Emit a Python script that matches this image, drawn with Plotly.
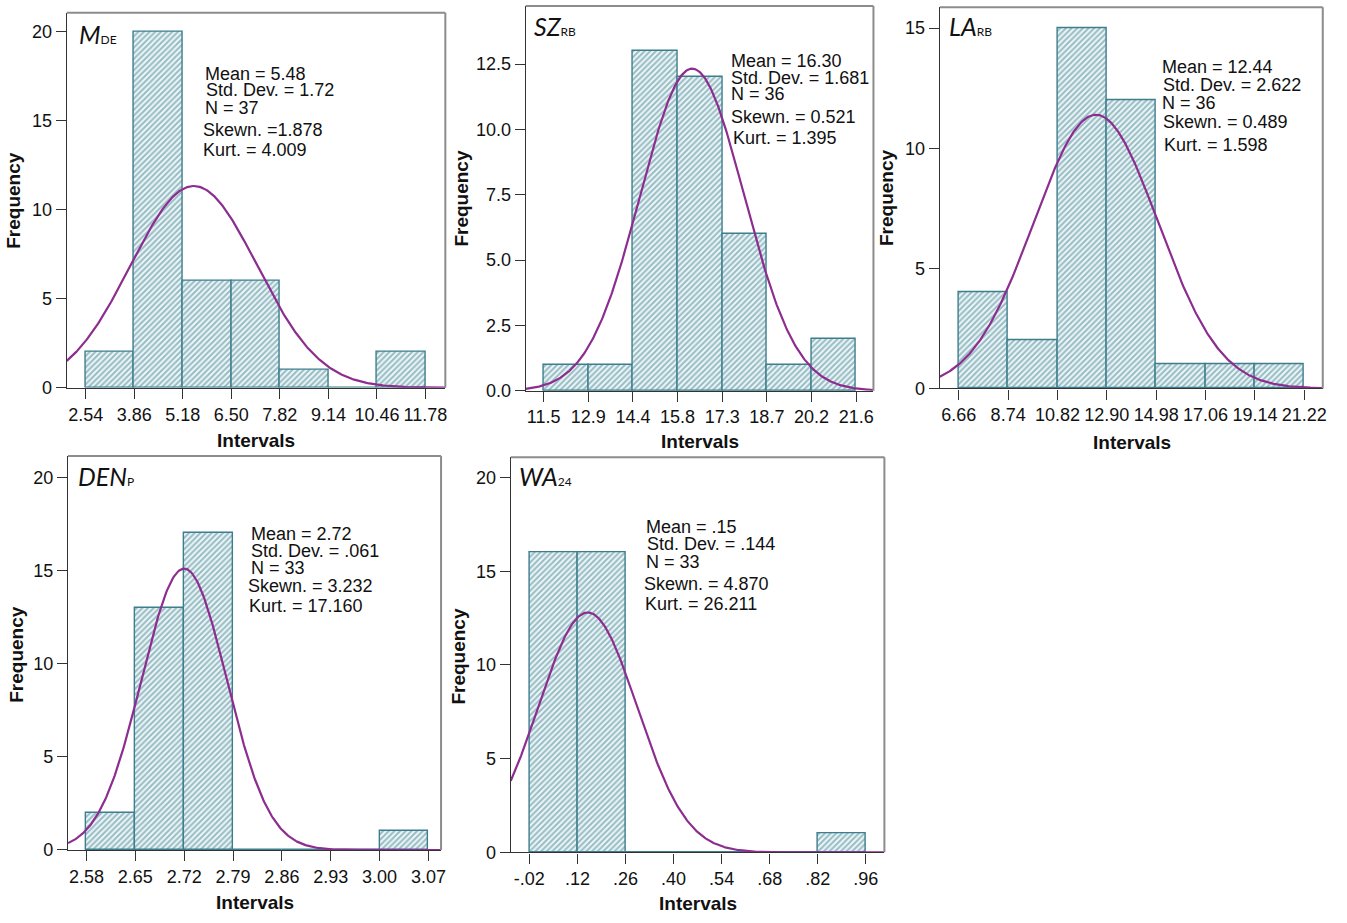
import numpy as np
import plotly.graph_objects as go

# ---------------- data ----------------
# M_DE
mde_counts = [2, 20, 6, 6, 1, 0, 2]
mde_start, mde_width = 2.54, 1.32
mde_ticks = ["2.54", "3.86", "5.18", "6.50", "7.82", "9.14", "10.46", "11.78"]
mde_mean, mde_sd, mde_n = 5.48, 1.72, 37
mde_stats = ["Mean = 5.48", "Std. Dev. = 1.72", "N = 37", "Skewn. =1.878", "Kurt. = 4.009"]

# SZ_RB
szrb_counts = [1, 1, 13, 12, 6, 1, 2]
szrb_start, szrb_width = 11.5, 1.443
szrb_ticks = ["11.5", "12.9", "14.4", "15.8", "17.3", "18.7", "20.2", "21.6"]
szrb_mean, szrb_sd, szrb_n = 16.30, 1.681, 36
szrb_stats = ["Mean = 16.30", "Std. Dev. = 1.681", "N = 36", "Skewn. = 0.521", "Kurt. = 1.395"]

# LA_RB
larb_counts = [4, 2, 15, 12, 1, 1, 1]
larb_start, larb_width = 6.66, 2.08
larb_ticks = ["6.66", "8.74", "10.82", "12.90", "14.98", "17.06", "19.14", "21.22"]
larb_mean, larb_sd, larb_n = 12.44, 2.622, 36
larb_stats = ["Mean = 12.44", "Std. Dev. = 2.622", "N = 36", "Skewn. = 0.489", "Kurt. = 1.598"]

# DEN_P
denp_counts = [2, 13, 17, 0, 0, 0, 1]
denp_start, denp_width = 2.58, 0.07
denp_ticks = ["2.58", "2.65", "2.72", "2.79", "2.86", "2.93", "3.00", "3.07"]
denp_mean, denp_sd, denp_n = 2.72, 0.061, 33
denp_stats = ["Mean = 2.72", "Std. Dev. = .061", "N = 33", "Skewn. = 3.232", "Kurt. = 17.160"]

# WA_24
wa24_counts = [16, 16, 0, 0, 0, 0, 1]
wa24_start, wa24_width = -0.02, 0.14
wa24_ticks = ["-.02", ".12", ".26", ".40", ".54", ".68", ".82", ".96"]
wa24_mean, wa24_sd, wa24_n = 0.15, 0.144, 33
wa24_stats = ["Mean = .15", "Std. Dev. = .144", "N = 33", "Skewn. = 4.870", "Kurt. = 26.211"]

# ---------------- page layout (pixels) ----------------
W, H = 1347, 923


def px(x):
    return x / W


def py(y):
    return 1 - y / H


panels = [
    dict(name=("M", "DE"), counts=mde_counts, start=mde_start, width=mde_width,
         ticks=mde_ticks, mean=mde_mean, sd=mde_sd, n=mde_n, stats=mde_stats,
         frame=(67, 13, 447, 392), xr=(2.025, 12.32), yr=21.05,
         ytick=[0, 5, 10, 15, 20], yfmt="d",
         stat_x=[205.5, 206.5, 205.5, 204, 204], stat_y=[80.7, 97.7, 115.7, 137.7, 157.7],
         title_pos=(79, 42.7), freq_x=14, freq_y=202, int_pos=(257, 445.6)),
    dict(name=("SZ", "RB"), counts=szrb_counts, start=szrb_start, width=szrb_width,
         ticks=szrb_ticks, mean=szrb_mean, sd=szrb_sd, n=szrb_n, stats=szrb_stats,
         frame=(527.7, 6, 876.7, 395), xr=(10.92, 22.16), yr=14.73,
         ytick=[0, 2.5, 5, 7.5, 10, 12.5], yfmt=".1f",
         stat_x=[734, 734, 734, 734, 736], stat_y=[68.3, 85, 101.7, 124.3, 146],
         title_pos=(536, 34.3), freq_x=463.5, freq_y=200, int_pos=(702.7, 446.7)),
    dict(name=("LA", "RB"), counts=larb_counts, start=larb_start, width=larb_width,
         ticks=larb_ticks, mean=larb_mean, sd=larb_sd, n=larb_n, stats=larb_stats,
         frame=(943.3, 7.3, 1327.7, 392.7), xr=(5.86, 22.0), yr=15.87,
         ytick=[0, 5, 10, 15], yfmt="d",
         stat_x=[1166.5, 1167, 1166.5, 1167, 1168], stat_y=[74, 91.7, 110, 130, 152.7],
         title_pos=(952.7, 35), freq_x=890.5, freq_y=200, int_pos=(1136, 447)),
    dict(name=("DEN", "P"), counts=denp_counts, start=denp_start, width=denp_width,
         ticks=denp_ticks, mean=denp_mean, sd=denp_sd, n=denp_n, stats=denp_stats,
         frame=(68.3, 461, 442.7, 859.3), xr=(2.5537, 3.088), yr=21.15,
         ytick=[0, 5, 10, 15, 20], yfmt="d",
         stat_x=[252.3, 252.3, 251.7, 249.3, 250], stat_y=[546, 563.3, 580.3, 598.3, 619.3],
         title_pos=(78.3, 489.3), freq_x=16.5, freq_y=661.5, int_pos=(255.8, 912.3)),
    dict(name=("WA", "24"), counts=wa24_counts, start=wa24_start, width=wa24_width,
         ticks=wa24_ticks, mean=wa24_mean, sd=wa24_sd, n=wa24_n, stats=wa24_stats,
         frame=(512.7, 462.3, 887.7, 861.7), xr=(-0.074, 1.014), yr=21.08,
         ytick=[0, 5, 10, 15, 20], yfmt="d",
         stat_x=[648.3, 649, 648.3, 646, 647.3], stat_y=[539, 556, 574, 596.7, 616.7],
         title_pos=(521, 490), freq_x=460.5, freq_y=663, int_pos=(700.7, 913)),
]

BAR_EDGE = "#3d7d8d"
HATCH_FG = "#40828f"
HATCH_BG = "#eef6f8"
CURVE = "#8c2d8f"
STAT_FONT = dict(family="Liberation Sans, Arial, sans-serif", size=18, color="#111111")
TICK_FONT = dict(family="Liberation Sans, Arial, sans-serif", size=18, color="#111111")
LABEL_FONT = dict(family="Liberation Sans, Arial, sans-serif", size=19, color="#111111")

fig = go.Figure()
layout = dict(width=W, height=H, margin=dict(l=0, r=0, t=0, b=0),
              paper_bgcolor="white", plot_bgcolor="white", showlegend=False)
annotations = []
shapes = []

for i, p in enumerate(panels, start=1):
    xa = "x" if i == 1 else f"x{i}"
    ya = "y" if i == 1 else f"y{i}"
    nbins = len(p["counts"])
    edges = [p["start"] + k * p["width"] for k in range(nbins + 1)]
    centers = [p["start"] + (k + 0.5) * p["width"] for k in range(nbins)]

    fig.add_trace(go.Bar(
        x=centers, y=p["counts"], width=[p["width"]] * nbins,
        xaxis=xa, yaxis=ya,
        marker=dict(color=HATCH_BG,
                    line=dict(color=BAR_EDGE, width=1.4),
                    pattern=dict(shape="/", fgcolor=HATCH_FG, bgcolor=HATCH_BG,
                                 size=4, solidity=0.5)),
        hoverinfo="skip",
    ))

    # fitted normal curve scaled to counts
    xs = np.linspace(p["xr"][0], p["xr"][1], 400)
    ys = p["n"] * p["width"] * np.exp(-0.5 * ((xs - p["mean"]) / p["sd"]) ** 2) / (p["sd"] * np.sqrt(2 * np.pi))
    fig.add_trace(go.Scatter(x=xs, y=ys, mode="lines", xaxis=xa, yaxis=ya,
                             line=dict(color=CURVE, width=2.2), hoverinfo="skip"))

    l, t, r, b = p["frame"]
    key_x = "xaxis" if i == 1 else f"xaxis{i}"
    key_y = "yaxis" if i == 1 else f"yaxis{i}"
    layout[key_x] = dict(domain=[px(l), px(r)], anchor=ya, range=list(p["xr"]),
                         tickmode="array", tickvals=edges, ticktext=p["ticks"],
                         tickangle=0, ticks="outside", ticklen=10, tickwidth=1,
                         tickcolor="#333333", showline=True, linecolor="#333333",
                         linewidth=1.3, showgrid=False, zeroline=False,
                         tickfont=TICK_FONT, fixedrange=True)
    layout[key_y] = dict(domain=[py(b), py(t)], anchor=xa, range=[0, p["yr"]],
                         tickmode="array", tickvals=p["ytick"], tickformat=p["yfmt"],
                         ticks="outside", ticklen=10, tickwidth=1, tickcolor="#333333",
                         showline=True, linecolor="#333333", linewidth=1.3,
                         showgrid=False, zeroline=False, tickfont=TICK_FONT,
                         fixedrange=True)

    # gray top/right frame
    shapes.append(dict(type="line", xref="paper", yref="paper",
                       x0=px(l), x1=px(r), y0=py(t), y1=py(t),
                       line=dict(color="#8c8c8c", width=2)))
    shapes.append(dict(type="line", xref="paper", yref="paper",
                       x0=px(r), x1=px(r), y0=py(t), y1=py(b),
                       line=dict(color="#8c8c8c", width=2)))

    # statistics block
    for line, sx, sy in zip(p["stats"], p["stat_x"], p["stat_y"]):
        annotations.append(dict(text=line, xref="paper", yref="paper",
                                x=px(sx), y=py(sy - 0.347 * STAT_FONT["size"]),
                                xanchor="left", yanchor="middle", showarrow=False,
                                font=STAT_FONT, borderpad=0, borderwidth=0))

    # variable name with subscript
    main, sub = p["name"]
    tx, ty = p["title_pos"]
    annotations.append(dict(
        text=f"<i>{main}</i><span style='font-size:12px'>{sub}</span>",
        xref="paper", yref="paper", x=px(tx - 1), y=py(ty - 8.5),
        xanchor="left", yanchor="middle", showarrow=False, borderpad=0,
        font=dict(family="Lato, Open Sans, sans-serif", size=25, color="#111111")))

    # axis titles
    annotations.append(dict(text="<b>Frequency</b>", xref="paper", yref="paper",
                            x=px(p["freq_x"]), y=py(p["freq_y"]), textangle=-90,
                            xanchor="center", yanchor="middle", showarrow=False,
                            font=LABEL_FONT, borderpad=0))
    ix, iy = p["int_pos"]
    annotations.append(dict(text="<b>Intervals</b>", xref="paper", yref="paper",
                            x=px(ix), y=py(iy), xanchor="center", yanchor="middle",
                            showarrow=False, font=LABEL_FONT, borderpad=0))

layout["annotations"] = annotations
layout["shapes"] = shapes
layout["bargap"] = 0
fig.update_layout(**layout)

fig.write_html("out.html")
